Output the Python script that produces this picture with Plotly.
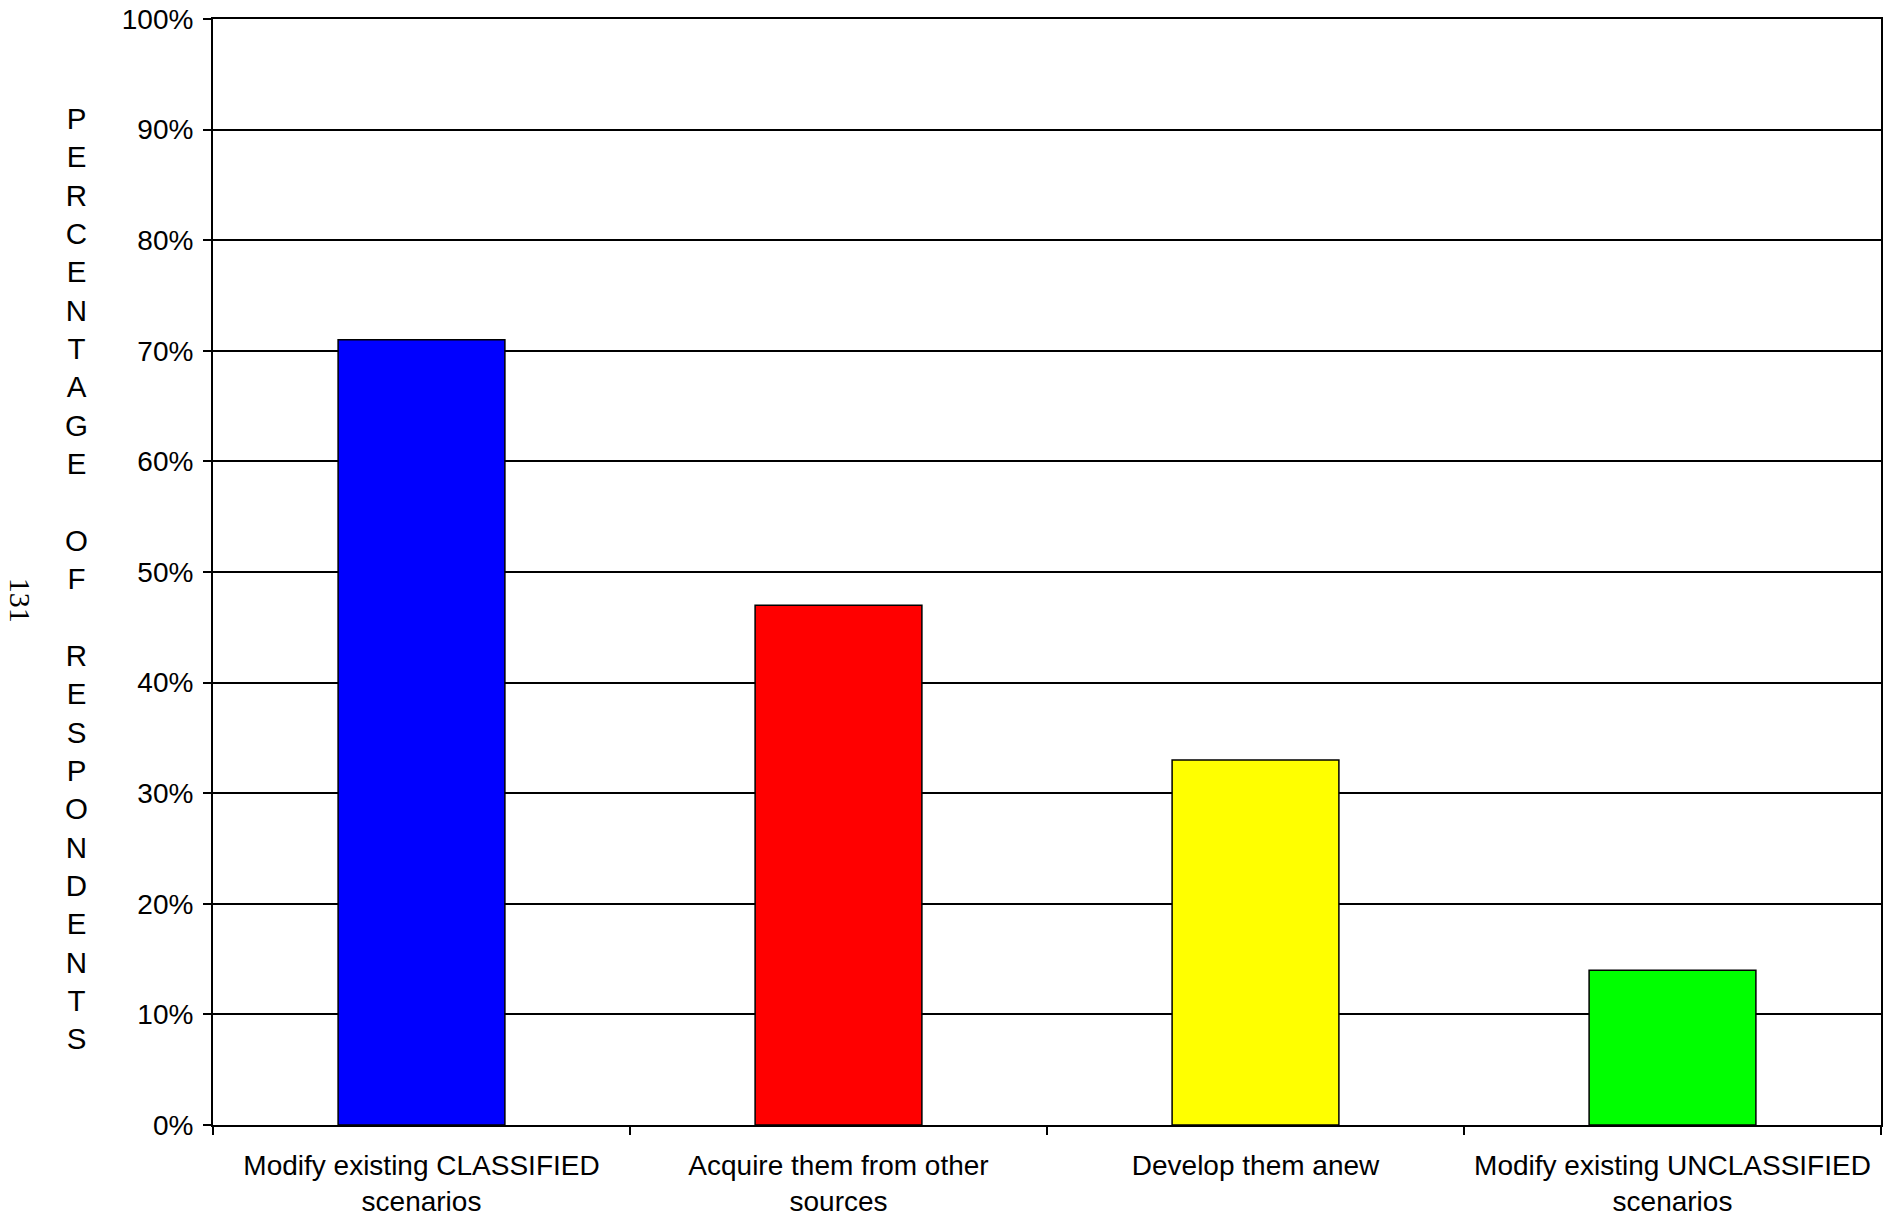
import plotly.graph_objects as go

categories = ["Modify existing CLASSIFIED<br>scenarios",
              "Acquire them from other<br>sources",
              "Develop them anew",
              "Modify existing UNCLASSIFIED<br>scenarios"]
values = [0.71, 0.47, 0.33, 0.14]
colors = ["#0000FF", "#FF0000", "#FFFF00", "#00FF00"]
tick_vals = [0, 0.1, 0.2, 0.3, 0.4, 0.5, 0.6, 0.7, 0.8, 0.9, 1.0]
tick_text = ["0%", "10%", "20%", "30%", "40%", "50%", "60%", "70%", "80%", "90%", "100%"]
y_title = "PERCENTAGE OF RESPONDENTS"
page_number = "131"

FONT = "Arial, 'Liberation Sans', sans-serif"

fig = go.Figure(go.Bar(
    x=categories, y=values,
    marker=dict(color=colors, line=dict(color="black", width=1.5)),
    width=0.4,
))

fig.update_layout(
    width=1883, height=1221,
    margin=dict(l=213, r=2, t=19, b=96),
    paper_bgcolor="white", plot_bgcolor="white",
    showlegend=False,
    font=dict(family=FONT, size=28, color="black"),
)

fig.update_xaxes(
    showline=True, linecolor="black", linewidth=2, mirror=True,
    ticks="outside", ticklen=8, tickwidth=1.5, tickcolor="black",
    tickson="boundaries", showgrid=False, automargin=False,
    tickfont=dict(size=28, family=FONT),
    ticklabelstandoff=14,
)
fig.update_yaxes(
    range=[0, 1], tickvals=tick_vals, ticktext=tick_text,
    showline=True, linecolor="black", linewidth=2, mirror=True,
    ticks="outside", ticklen=8, tickwidth=1.5, tickcolor="black",
    showgrid=True, gridcolor="black", gridwidth=1.8,
    zeroline=False, automargin=False, ticklabeloverflow="allow",
    tickfont=dict(size=28, family=FONT),
    ticklabelstandoff=4,
)

fig.add_annotation(
    text="<br>".join(list(y_title)),
    xref="paper", yref="paper", x=-0.0821, y=0.4937,
    xanchor="center", yanchor="middle", showarrow=False,
    font=dict(size=29.5, family=FONT, color="black"), align="center",
)
fig.add_annotation(
    text=page_number, textangle=90,
    xref="paper", yref="paper", x=-0.1155, y=0.4747,
    xanchor="center", yanchor="middle", showarrow=False,
    font=dict(size=30, family="'Times New Roman', 'Liberation Serif', serif", color="black"),
)

fig.write_html("out.html",
               config={"displayModeBar": False},
               post_script="document.body.style.margin='0px';document.body.style.overflow='hidden';")
